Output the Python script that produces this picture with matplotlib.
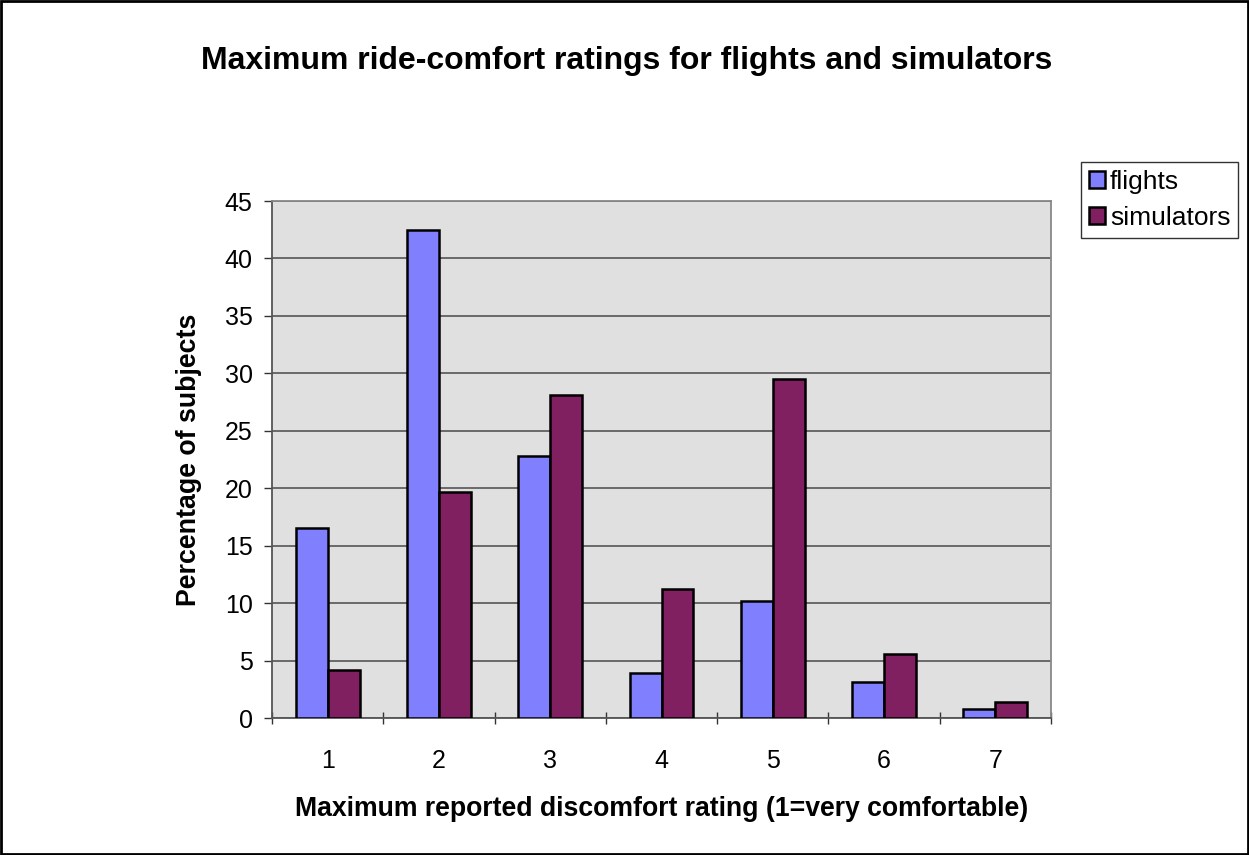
import matplotlib
matplotlib.use("Agg")
import matplotlib.pyplot as plt
import numpy as np

categories = ["1", "2", "3", "4", "5", "6", "7"]
flights = [16.5, 42.5, 22.8, 3.9, 10.2, 3.1, 0.8]
simulators = [4.2, 19.7, 28.1, 11.2, 29.5, 5.6, 1.4]
yticks = [0, 5, 10, 15, 20, 25, 30, 35, 40, 45]

plt.rcParams['font.family'] = ['Liberation Sans', 'DejaVu Sans']

fig = plt.figure(figsize=(12.49, 8.55), dpi=100)
fig.patch.set_facecolor('white')
# figure border
fig.add_artist(plt.Rectangle((0.001, 0.001), 0.998, 0.998, transform=fig.transFigure,
                             fill=False, edgecolor='black', linewidth=2))

ax = fig.add_axes([0.2178, 0.1602, 0.6237, 0.6047])
ax.set_facecolor('#E0E0E0')

x = np.arange(len(categories))
w = 0.287
ax.bar(x - w/2, flights, w, color='#8080FF', edgecolor='black', linewidth=1.8, label='flights', zorder=3)
ax.bar(x + w/2, simulators, w, color='#802060', edgecolor='black', linewidth=1.8, label='simulators', zorder=3)

ax.set_xlim(-0.5, len(categories) - 0.5)
ax.set_ylim(0, 45)
ax.set_yticks(yticks)
ax.set_yticklabels([str(v) for v in yticks], fontsize=18)
ax.yaxis.grid(True, color='#555555', linewidth=1.2, zorder=0)
ax.set_axisbelow(True)

ax.set_xticks(x)
ax.set_xticklabels(categories, fontsize=18)
ax.tick_params(axis='x', which='major', length=0, pad=22)
ax.set_xticks(np.arange(-0.5, len(categories) + 0.5, 1), minor=True)
ax.tick_params(axis='x', which='minor', length=8, width=1, color='#333333', direction='inout')
ax.tick_params(axis='y', length=6, width=1, color='#333333', pad=8)

for s in ['left', 'bottom']:
    ax.spines[s].set_color('#555555')
    ax.spines[s].set_linewidth(1.3)
for s in ['top', 'right']:
    ax.spines[s].set_color('#888888')
    ax.spines[s].set_linewidth(1.3)

ax.set_ylabel('Percentage of subjects', fontsize=19.3, fontweight='bold', labelpad=16)
ax.set_xlabel('Maximum reported discomfort rating (1=very comfortable)', fontsize=19.2, fontweight='bold', labelpad=17)

fig.text(0.502, 0.929, 'Maximum ride-comfort ratings for flights and simulators',
         ha='center', va='center', fontsize=23, fontweight='bold')

leg = fig.legend(loc='upper left', bbox_to_anchor=(0.8655, 0.8105), fontsize=19, frameon=True,
                 fancybox=False, edgecolor='black', handlelength=0.6, handleheight=0.6,
                 handletextpad=0.2, borderpad=0.3, labelspacing=0.45, borderaxespad=0)
leg.get_frame().set_linewidth(1.0)

fig.savefig('out.png', dpi=100)
